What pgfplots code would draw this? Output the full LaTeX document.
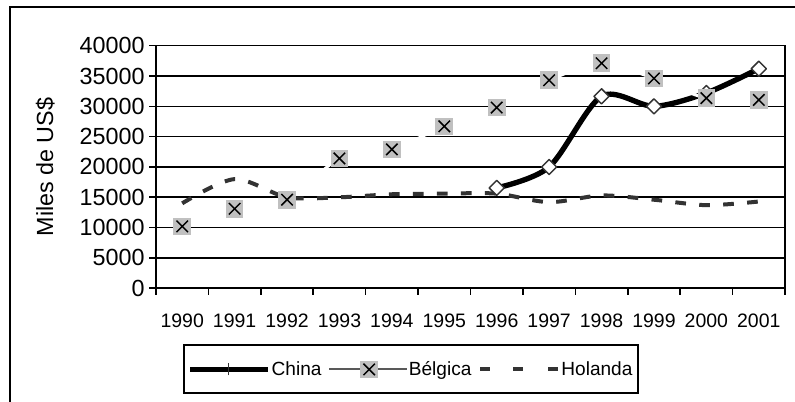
\documentclass[border=0pt]{standalone}
\usepackage{pgfplots}
\pgfplotsset{compat=1.18}
\usepackage{fontspec}
\setmainfont{Liberation Sans}

\definecolor{markgray}{HTML}{C0C0C0}
\definecolor{dashgray}{HTML}{333333}
\definecolor{lgray}{HTML}{595959}

% gray square with a black cross, as Excel draws it
\pgfdeclareplotmark{grayx}{%
  \pgfpathrectangle{\pgfqpoint{-\pgfplotmarksize}{-\pgfplotmarksize}}{\pgfqpoint{2\pgfplotmarksize}{2\pgfplotmarksize}}%
  \pgfsetfillcolor{markgray}%
  \pgfusepath{fill}%
  \pgfsetstrokecolor{black}%
  \pgfsetlinewidth{1.1pt}%
  \pgfpathmoveto{\pgfqpoint{-.65\pgfplotmarksize}{-.65\pgfplotmarksize}}%
  \pgfpathlineto{\pgfqpoint{.65\pgfplotmarksize}{.65\pgfplotmarksize}}%
  \pgfpathmoveto{\pgfqpoint{-.65\pgfplotmarksize}{.65\pgfplotmarksize}}%
  \pgfpathlineto{\pgfqpoint{.65\pgfplotmarksize}{-.65\pgfplotmarksize}}%
  \pgfusepath{stroke}%
}

\begin{document}
\begin{tikzpicture}
\useasboundingbox (0pt,0pt) rectangle (596.25pt,301.5pt);
\draw[line width=1.5pt] (7.5pt,-20pt) -- (7.5pt,296.25pt) -- (640pt,296.25pt);
\begin{axis}[
    at={(117pt,85.3pt)}, anchor=south west,
    scale only axis, width=471.75pt, height=181.95pt,
    xmin=-0.5, xmax=11.5, ymin=0, ymax=40000,
    xtick={-0.5,0.5,1.5,2.5,3.5,4.5,5.5,6.5,7.5,8.5,9.5,10.5,11.5},
    xticklabels={1990,1991,1992,1993,1994,1995,1996,1997,1998,1999,2000,2001},
    x tick label as interval,
    ytick={0,5000,...,40000},
    scaled y ticks=false,
    /pgf/number format/set thousands separator={},
    /pgf/number format/assume math mode=true,
    tick pos=left, tick align=outside, major tick length=5pt,
    tick style={black, line width=1.2pt},
    axis line style={line width=1.2pt},
    ymajorgrids, grid style={black, line width=1.2pt},
    yticklabel style={font=\fontsize{17.5}{20}\selectfont},
    xticklabel style={font=\fontsize{14.6}{16}\selectfont, yshift=-10.5pt},
    ylabel={Miles de US\$},
    ylabel style={at={(axis description cs:-0.176,0.5)}, anchor=center, font=\fontsize{17.5}{20}\selectfont},
    legend columns=3,
    legend style={at={(axis description cs:0.405,-0.3347)}, anchor=center,
      draw=black, line width=1.5pt, font=\fontsize{14.3}{16}\selectfont,
      inner xsep=3pt, inner ysep=10pt,
      nodes={inner xsep=1pt},
      /tikz/every even column/.append style={column sep=4pt}},
  ]

  % Holanda first so the markers of the other series sit on top of it
  \addplot[dashgray, line width=3pt, smooth, dash pattern=on 8pt off 10pt, forget plot]
    coordinates {(0,14000)(1,18000)(2,15000)(3,15000)(4,15500)(5,15600)
                 (6,15600)(7,14200)(8,15300)(9,14600)(10,13700)(11,14300)};

  \addplot[black, line width=4pt, smooth, line join=round,
    mark=square*, mark size=4pt,
    mark options={rotate=45, fill=white, draw=dashgray, line width=1.1pt},
    legend image code/.code={
      \draw[black, line width=4pt] (0pt,0pt) -- (58pt,0pt);
      \draw[dashgray, line width=0.8pt] (28.5pt,-4.5pt) -- (28.5pt,4.5pt);}]
    coordinates {(6,16550)(7,20000)(8,31650)(9,30000)(10,32200)(11,36200)};
  \addlegendentry{China}

  \addplot[white, line width=2.25pt, smooth, mark=grayx, mark size=6.6pt,
    legend image code/.code={
      \draw[lgray, line width=1.5pt] (0pt,0pt) -- (58pt,0pt);
      \path plot[mark=grayx, mark size=6.6pt] coordinates {(30pt,0pt)};}]
    coordinates {(0,10200)(1,13100)(2,14600)(3,21400)(4,22900)(5,26700)
                 (6,29800)(7,34300)(8,37100)(9,34600)(10,31350)(11,31050)};
  \addlegendentry{Bélgica}

  \addlegendimage{dashgray, line width=3pt,
    legend image code/.code={
      \draw[dashgray, solid, line width=3pt] (2.25pt,0pt) -- (9.75pt,0pt)
        (27pt,0pt) -- (34.5pt,0pt) (53.25pt,0pt) -- (60.75pt,0pt);}}
  \addlegendentry{Holanda}
\end{axis}
\end{tikzpicture}
\end{document}
